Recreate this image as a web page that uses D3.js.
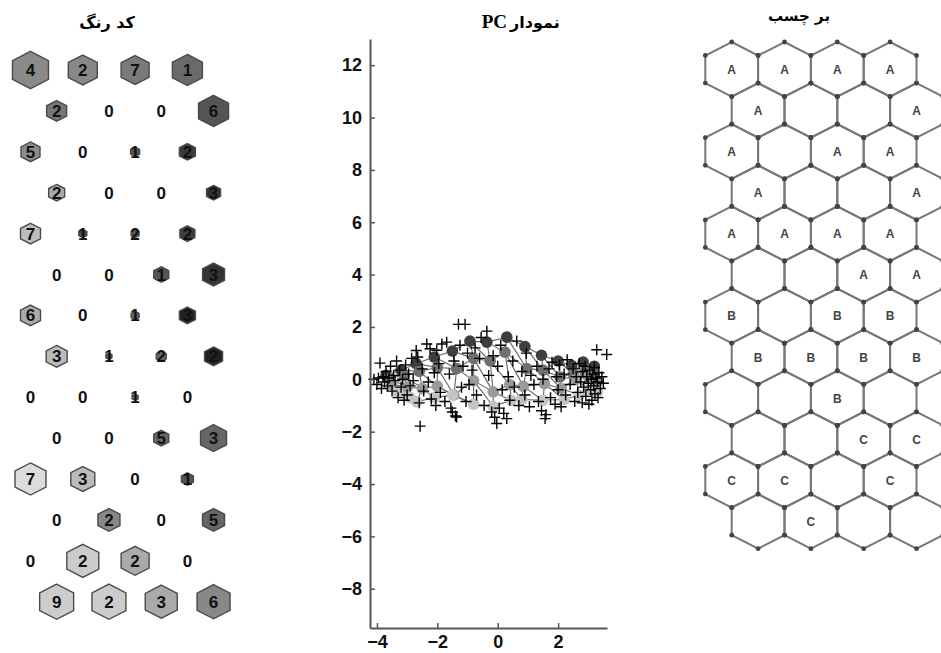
<!DOCTYPE html>
<html><head><meta charset="utf-8">
<script src="https://cdn.jsdelivr.net/npm/d3@7"></script>
<style>body{margin:0;background:#fff}svg{display:block}</style>
</head><body>
<svg id="c" width="941" height="653"></svg>
<script>
// ---------- DATA ----------
const titles = ["کد رنگ", "نمودار", "PC", "بر چسب"];
// Left panel (color code / hits): 14 rows x 4 cols
const hitLabels = [[4,2,7,1],[2,0,0,6],[5,0,1,2],[2,0,0,3],[7,1,2,2],[0,0,1,3],[6,0,1,3],[3,1,2,2],[0,0,1,0],[0,0,5,3],[7,3,0,1],[0,2,0,5],[0,2,2,0],[9,2,3,6]];
const hexWidth = [[36,29,28,30],[20,0,0,30],[19,0,9,16],[16,0,0,14],[20,8,8,15],[0,0,15,22],[20,0,8,16],[21,6,10,18],[0,0,6,0],[0,0,15,26],[31,24,0,12],[0,22,0,22],[0,32,28,0],[34,34,32,33]];
const hexFill = [["#8a8a8a","#888888","#7a7a7a","#6a6a6a"],["#777777","","","#555555"],["#8c8c8c","","#555555","#3a3a3a"],["#aaaaaa","","","#333333"],["#bdbdbd","#444444","#555555","#3c3c3c"],["","","#555555","#333333"],["#aaaaaa","","#666666","#222222"],["#bbbbbb","#555555","#666666","#222222"],["","","#666666",""],["","","#666666","#666666"],["#dcdcdc","#bbbbbb","","#555555"],["","#888888","","#666666"],["","#cccccc","#aaaaaa",""],["#cccccc","#cccccc","#aaaaaa","#888888"]];
// Right panel labels: 12 rows x 4 cols
const cellLabels = [["A","A","A","A"],["A","","","A"],["A","","A","A"],["A","","","A"],["A","A","A","A"],["","","A","A"],["B","","B","B"],["B","B","B","B"],["","","B",""],["","","C","C"],["C","C","","C"],["","C","",""]];
// Middle panel: PC projection
const xTicks = [-4,-2,0,2];
const yTicks = [-8,-6,-4,-2,0,2,4,6,8,10,12];
const nodeX = [
 [-3.7,-3.2,-2.7,-2.1,-1.5,-0.92,-0.36,0.30,0.9,1.45,2.0,2.45,2.83,3.2],
 [-3.6,-3.1,-2.6,-2.0,-1.36,-0.8,-0.25,0.24,0.96,1.5,2.06,2.5,2.9,3.2],
 [-3.5,-3.0,-2.5,-2.0,-1.45,-0.8,-0.15,0.4,0.85,1.55,2.1,2.6,3.0,3.3],
 [-3.3,-2.9,-2.68,-2.1,-1.5,-0.8,-0.15,0.45,0.8,1.5,2.2,2.7,3.0,3.3]];
const nodeY = [
 [0.15,0.35,0.6,0.85,1.08,1.46,1.42,1.61,1.25,0.92,0.7,0.53,0.66,0.5],
 [0.05,0.15,0.3,0.45,0.41,0.8,0.70,1.04,0.41,0.35,0.09,0.2,0.3,0.2],
 [-0.2,-0.3,-0.35,-0.26,-0.6,-0.05,-0.48,-0.2,-0.27,-0.17,-0.35,0.0,0.1,-0.1],
 [-0.5,-0.7,-0.86,-0.7,-0.6,-0.95,-1.03,-0.8,-0.77,-0.8,-0.77,-0.6,-0.4,-0.5]];
const nodeColor = ["#3e3e3e","#707070","#9a9a9a","#c4c4c4"];
const samples = [
 [-4.1,0.0],[-4.0,-0.2],[-3.95,0.05],[-3.9,0.62],[-3.85,-0.35],[-3.8,0.1],[-3.75,-0.1],[-3.7,0.3],[-3.65,-0.25],[-3.6,0.05],[-3.55,0.5],[-3.5,-0.45],[-3.45,0.15],[-3.4,-0.05],[-3.35,0.7],[-3.3,-0.7],[-3.25,0.35],[-3.2,-0.3],[-3.15,0.0],[-3.1,-0.8],[-3.05,0.55],[-3.0,-0.6],[-2.95,0.2],[-2.9,-0.25],[-2.85,0.8],[-2.8,-0.05],
 [-2.7,1.1],[-2.65,0.85],[-2.6,-0.9],[-2.57,-1.79],[-2.5,0.4],[-2.45,-0.45],[-2.35,1.35],[-2.3,-0.1],[-2.24,1.17],[-2.2,-0.75],[-2.1,0.25],[-2.05,-1.0],[-2.02,1.11],[-1.95,0.6],[-1.9,-0.5],[-1.85,1.35],[-1.75,-0.85],[-1.69,1.42],[-1.6,0.2],[-1.55,-1.1],[-1.5,-1.25],[-1.45,0.7],[-1.4,-1.4],[-1.36,-1.44],[-1.3,2.10],[-1.25,1.3],[-1.2,-0.3],[-1.15,0.5],[-1.08,2.10],[-1.05,-0.85],[-1.0,1.0],[-0.95,-0.2],
 [-0.85,0.35],[-0.75,1.2],[-0.7,-0.6],[-0.6,0.8],[-0.55,1.6],[-0.45,-1.0],[-0.36,1.84],[-0.3,0.15],[-0.2,-1.25],[-0.15,0.9],[-0.1,-1.45],[-0.03,-1.69],[0.0,0.5],[0.05,-1.1],[0.1,1.3],[0.15,-0.4],[0.2,-1.3],[0.30,-1.50],[0.35,0.1],[0.4,-0.8],[0.5,0.7],[0.55,-0.3],[0.63,1.46],[0.7,-1.0],[0.8,0.3],[0.9,-0.6],[0.95,1.0],
 [1.05,-1.05],[1.1,0.15],[1.2,-0.2],[1.3,0.5],[1.35,-0.85],[1.45,-1.2],[1.5,0.0],[1.57,-1.50],[1.6,-1.35],[1.7,0.4],[1.75,-0.7],[1.8,0.65],[1.9,-0.95],[1.95,0.1],[2.0,-0.4],[2.05,0.55],[2.1,-1.05],[2.2,0.2],[2.25,-0.6],[2.3,0.75],[2.4,-0.2],[2.5,0.4],[2.55,-0.85],
 [2.6,0.1],[2.65,-0.5],[2.7,0.6],[2.75,-0.1],[2.8,-0.9],[2.82,0.3],[2.85,-0.3],[2.9,0.5],[2.92,-0.65],[2.95,0.1],[3.0,-0.15],[3.02,-0.95],[3.05,0.35],[3.08,-0.4],[3.1,0.0],[3.12,-0.8],[3.15,0.2],[3.18,-0.25],[3.2,0.45],[3.22,-0.55],[3.25,0.05],[3.28,1.13],[3.3,-0.1],[3.32,-0.7],[3.35,0.25],[3.4,-0.35],[3.45,0.1],[3.5,-0.15],[3.61,0.95]];

// ---------- DRAW ----------
const svg = d3.select("#c");
const persian = "'DejaVu Sans', 'Noto Sans', sans-serif";
const hexUnit = [[0,-1],[0.967,-0.505],[0.967,0.505],[0,1],[-0.967,0.505],[-0.967,-0.505]];
const hexPath = (cx, cy, R) => "M" + hexUnit.map(p => [cx + p[0]*R, cy + p[1]*R].join(",")).join("L") + "Z";

// Titles
svg.append("text").attr("x",107).attr("y",28).attr("text-anchor","middle")
  .style("font-family",persian).style("font-size","16px").style("font-weight","bold").text(titles[0]);
svg.append("text").attr("x",510).attr("y",28).attr("text-anchor","start")
  .style("font-family",persian).style("font-size","16px").style("font-weight","bold").text(titles[1]);
svg.append("text").attr("x",507).attr("y",28).attr("text-anchor","end")
  .style("font-family","'Liberation Serif', serif").style("font-size","19px").style("font-weight","bold").text(titles[2]);
svg.append("text").attr("x",799).attr("y",21).attr("text-anchor","middle")
  .style("font-family",persian).style("font-size","15px").style("font-weight","bold").text(titles[3]);

// Left panel
const lx = d3.scaleLinear().domain([0,1]).range([30.5, 82.8]);
const ly = d3.scaleLinear().domain([0,1]).range([70, 110.9]);
const left = svg.append("g");
hitLabels.forEach((row, r) => row.forEach((v, c) => {
  const cx = lx(c + (r % 2 ? 0.5 : 0)), cy = ly(r);
  const w = hexWidth[r][c];
  if (w > 0) {
    left.append("path").attr("d", hexPath(cx, cy, w/2/0.967))
      .attr("fill", hexFill[r][c]).attr("stroke","#4a4a4a").attr("stroke-width",1.4);
  }
  left.append("text").attr("x",cx).attr("y",cy+6).attr("text-anchor","middle")
    .style("font-family","'Liberation Sans', Arial, sans-serif").style("font-size","17px")
    .style("font-weight","bold").attr("fill","#111").text(v);
}));

// Middle panel
const x = d3.scaleLinear().domain([-4.23, 3.62]).range([370, 607]);
const y = d3.scaleLinear().domain([-9.5, 13]).range([628, 39]);
const mid = svg.append("g");
const edges = [];
for (let j = 0; j < 4; j++) for (let i = 0; i < 14; i++) {
  if (i < 13) edges.push([[j,i],[j,i+1]]);
  if (j < 3) edges.push([[j,i],[j+1,i]]);
  if (j < 3 && i < 13) edges.push([[j,i],[j+1,i+1]]);
}
mid.selectAll("line.e").data(edges).join("line").attr("class","e")
  .attr("x1", d => x(nodeX[d[0][0]][d[0][1]])).attr("y1", d => y(nodeY[d[0][0]][d[0][1]]))
  .attr("x2", d => x(nodeX[d[1][0]][d[1][1]])).attr("y2", d => y(nodeY[d[1][0]][d[1][1]]))
  .attr("stroke","#666").attr("stroke-width",1.1);
const nodes = [];
nodeX.forEach((row,j) => row.forEach((v,i) => nodes.push({x:v, y:nodeY[j][i], j})));
mid.selectAll("circle").data(nodes).join("circle")
  .attr("cx", d => x(d.x)).attr("cy", d => y(d.y)).attr("r", 5.8)
  .attr("fill", d => nodeColor[d.j]);
mid.selectAll("path.p").data(samples).join("path").attr("class","p")
  .attr("d", d => { const px = x(d[0]), py = y(d[1]); return `M${px-5.5},${py}H${px+5.5}M${px},${py-5.5}V${py+5.5}`; })
  .attr("stroke","#000").attr("stroke-width",1.4).attr("fill","none");

const yAxis = mid.append("g").attr("transform","translate(370,0)")
  .call(d3.axisLeft(y).tickValues(yTicks).tickSizeInner(-5).tickSizeOuter(0).tickPadding(8));
const xAxis = mid.append("g").attr("transform","translate(0,628)")
  .call(d3.axisBottom(x).tickValues(xTicks).tickSizeInner(-5).tickSizeOuter(0).tickPadding(7));
[yAxis, xAxis].forEach(a => {
  a.select(".domain").attr("stroke","#555").attr("stroke-width",2);
  a.selectAll(".tick line").attr("stroke","#555").attr("stroke-width",1.5);
  a.selectAll(".tick text").style("font-family","'Liberation Sans', Arial, sans-serif")
    .style("font-size","18px").style("font-weight","bold").attr("fill","#111");
});
yAxis.selectAll(".tick text").attr("x",-8);
xAxis.selectAll(".tick text").attr("dy","0.71em");

// Right panel
const rx = d3.scaleLinear().domain([0,1]).range([731.7, 784.5]);
const ry = d3.scaleLinear().domain([0,1]).range([69.3, 110.4]);
const right = svg.append("g");
const R = 27.3;
cellLabels.forEach((row, r) => row.forEach((lab, c) => {
  const cx = rx(c + (r % 2 ? 0.5 : 0)), cy = ry(r);
  right.append("path").attr("d", hexPath(cx, cy, R)).attr("fill","none")
    .attr("stroke","#777").attr("stroke-width",2);
}));
cellLabels.forEach((row, r) => row.forEach((lab, c) => {
  const cx = rx(c + (r % 2 ? 0.5 : 0)), cy = ry(r);
  hexUnit.forEach(p => right.append("circle").attr("cx", cx + p[0]*R).attr("cy", cy + p[1]*R)
    .attr("r",2.4).attr("fill","#444"));
  if (lab) right.append("text").attr("x",cx).attr("y",cy+4.5).attr("text-anchor","middle")
    .style("font-family","'Liberation Sans', Arial, sans-serif").style("font-size","12px")
    .style("font-weight","bold").attr("fill","#444").text(lab);
}));
</script>
</body></html>
